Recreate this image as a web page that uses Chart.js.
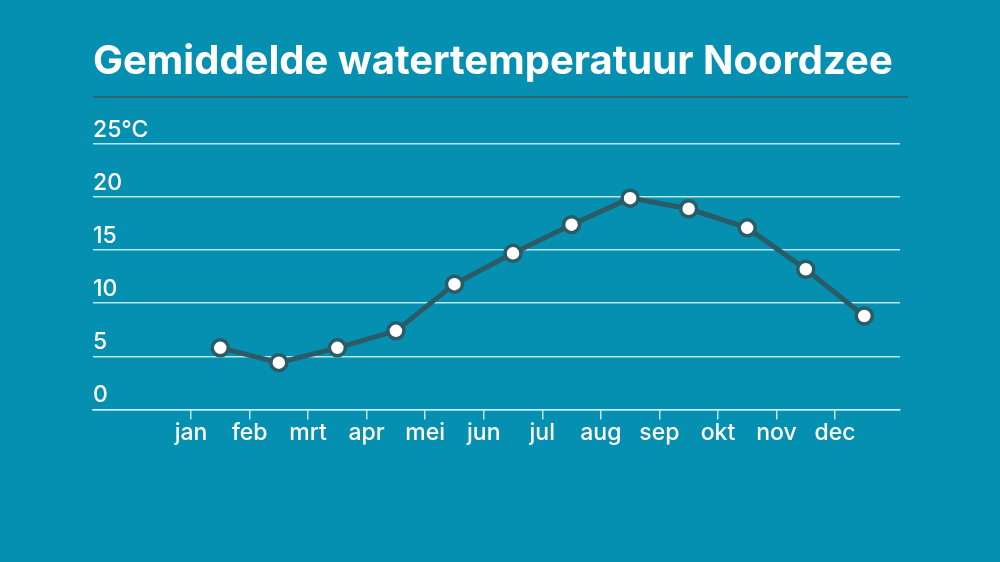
<!DOCTYPE html>
<html>
<head>
<meta charset="utf-8">
<script src="https://cdn.jsdelivr.net/npm/chart.js@4"></script>
<style>
  html, body { margin: 0; padding: 0; background: #0590b1; }
  #wrap { width: 1000px; height: 562px; }
</style>
</head>
<body>
<div id="wrap"><canvas id="c" width="1000" height="562"></canvas></div>
<script>
const titleText = 'Gemiddelde watertemperatuur Noordzee';
const months = ['jan','feb','mrt','apr','mei','jun','jul','aug','sep','okt','nov','dec'];
const temps = [5.8, 4.4, 5.8, 7.4, 11.8, 14.7, 17.4, 19.9, 18.9, 17.1, 13.2, 8.8];
const yTicks = [0, 5, 10, 15, 20, 25];

const BG = '#0590b1';
const GRID = 'rgba(220,245,250,0.85)';
const LINE = '#2b5b66';

const bgPlugin = {
  id: 'bg',
  beforeDraw(chart) {
    const ctx = chart.ctx;
    ctx.save();
    ctx.fillStyle = BG;
    ctx.fillRect(0, 0, chart.width, chart.height);
    ctx.restore();
  },
  afterDraw(chart) {
    const ctx = chart.ctx;
    ctx.save();
    ctx.strokeStyle = '#2b6675';
    ctx.lineWidth = 2;
    ctx.beginPath();
    ctx.moveTo(chart.chartArea.left, 97);
    ctx.lineTo(chart.chartArea.right + 8, 97);
    ctx.stroke();
    ctx.restore();
  }
};

new Chart(document.getElementById('c'), {
  type: 'line',
  data: {
    datasets: [{
      data: temps.map((v, i) => ({ x: i + 1.5, y: v })),
      borderColor: LINE,
      borderWidth: 5,
      pointBackgroundColor: '#ffffff',
      pointBorderColor: LINE,
      pointBorderWidth: 3.5,
      pointRadius: 8,
      tension: 0,
      clip: false
    }]
  },
  options: {
    responsive: false,
    animation: false,
    events: [],
    layout: { padding: { left: 93, right: 100, top: 0, bottom: 115 } },
    plugins: {
      legend: { display: false },
      tooltip: { enabled: false },
      title: {
        display: true,
        text: titleText,
        align: 'start',
        color: '#ffffff',
        font: { family: 'Inter', size: 40, weight: '700' },
        padding: { top: 38, bottom: 58 }
      }
    },
    scales: {
      x: {
        type: 'linear',
        min: -0.674,
        max: 13.11,
        afterBuildTicks(scale) {
          scale.ticks = months.map((m, i) => ({ value: i + 1 }));
        },
        ticks: {
          color: '#ffffff',
          font: { family: 'Inter', size: 23, weight: '500' },
          padding: 0,
          maxRotation: 0,
          autoSkip: false,
          callback: (v) => months[v - 1]
        },
        grid: {
          display: true,
          drawOnChartArea: false,
          drawTicks: true,
          tickLength: 10,
          color: GRID,
          lineWidth: 1.5
        },
        border: { display: true, color: GRID, width: 1.5 }
      },
      y: {
        min: 0,
        max: 25,
        afterBuildTicks(scale) {
          scale.ticks = yTicks.map(v => ({ value: v }));
        },
        ticks: {
          mirror: true,
          padding: 0,
          labelOffset: -14,
          color: '#ffffff',
          font: { family: 'Inter', size: 23, weight: '500' },
          callback: (v) => v === 25 ? '25°C' : String(v)
        },
        grid: {
          color: GRID,
          lineWidth: 1.5,
          drawTicks: false
        },
        border: { display: false }
      }
    }
  },
  plugins: [bgPlugin]
});
</script>
</body>
</html>
